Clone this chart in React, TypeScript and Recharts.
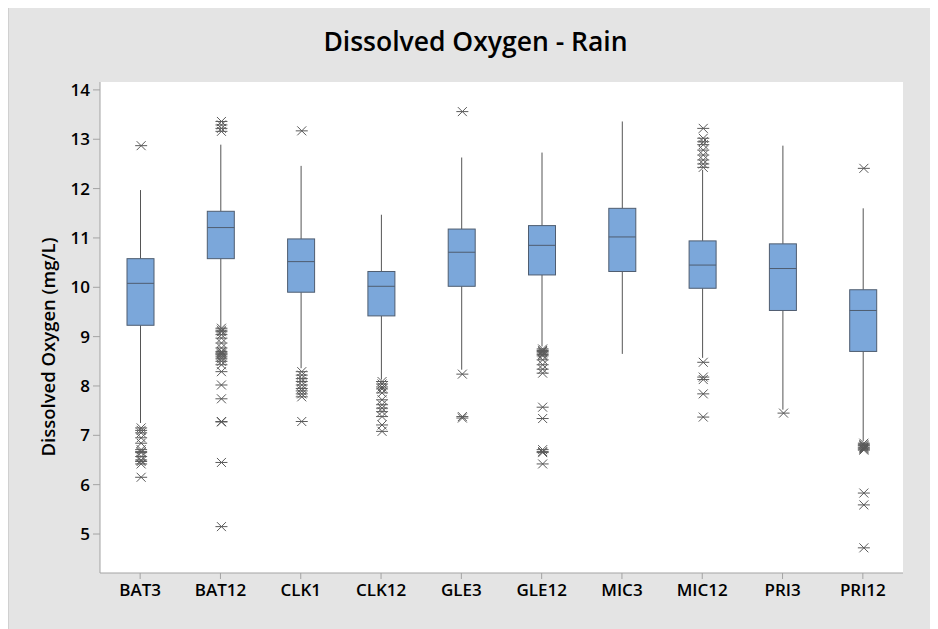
import React from 'react';
import { ComposedChart, Bar, Scatter, XAxis, YAxis, CartesianGrid } from 'recharts';

const categories = ['BAT3', 'BAT12', 'CLK1', 'CLK12', 'GLE3', 'GLE12', 'MIC3', 'MIC12', 'PRI3', 'PRI12'];
const whiskerLow = [7.25, 9.18, 8.36, 8.13, 8.33, 8.8, 8.65, 8.57, 7.52, 6.88];
const q1 = [9.23, 10.58, 9.9, 9.42, 10.02, 10.25, 10.32, 9.98, 9.53, 8.7];
const median = [10.08, 11.21, 10.52, 10.02, 10.71, 10.85, 11.02, 10.45, 10.38, 9.53];
const q3 = [10.58, 11.54, 10.98, 10.32, 11.18, 11.25, 11.6, 10.94, 10.88, 9.95];
const whiskerHigh = [11.97, 12.89, 12.46, 11.47, 12.63, 12.73, 13.36, 12.38, 12.87, 11.6];

const outBAT3 = [12.87, 7.15, 7.1, 7.05, 6.95, 6.84, 6.71, 6.67, 6.65, 6.57, 6.5, 6.47, 6.42, 6.15];
const outBAT12 = [13.36, 13.29, 13.22, 13.16, 9.17, 9.13, 9.1, 9.04, 8.97, 8.87, 8.77, 8.7, 8.67, 8.65, 8.63, 8.59, 8.55, 8.5, 8.43, 8.29, 8.02, 7.74, 7.28, 7.27, 6.45, 5.15];
const outCLK1 = [13.17, 8.29, 8.22, 8.15, 8.09, 8.02, 7.95, 7.9, 7.84, 7.78, 7.28];
const outCLK12 = [8.09, 8.04, 7.98, 7.94, 7.86, 7.72, 7.62, 7.55, 7.48, 7.38, 7.21, 7.08];
const outGLE3 = [13.56, 8.24, 7.38, 7.35];
const outGLE12 = [8.75, 8.72, 8.7, 8.67, 8.64, 8.61, 8.53, 8.43, 8.34, 8.26, 7.57, 7.34, 6.71, 6.67, 6.65, 6.42];
const outMIC3: number[] = [];
const outMIC12 = [13.22, 13.02, 12.95, 12.89, 12.78, 12.68, 12.58, 12.5, 12.43, 8.48, 8.18, 8.13, 7.84, 7.37];
const outPRI3 = [7.45];
const outPRI12 = [12.41, 6.84, 6.81, 6.79, 6.76, 6.74, 6.72, 6.7, 5.83, 5.59, 4.72];

const outliers = [outBAT3, outBAT12, outCLK1, outCLK12, outGLE3, outGLE12, outMIC3, outMIC12, outPRI3, outPRI12];
const yTicks = [5, 6, 7, 8, 9, 10, 11, 12, 13, 14];

const boxData = categories.map((name, i) => ({
  name,
  idx: i,
  range: [whiskerLow[i], whiskerHigh[i]],
  lo: whiskerLow[i],
  q1: q1[i],
  med: median[i],
  q3: q3[i],
  hi: whiskerHigh[i],
}));

const outlierData = outliers.flatMap((arr, i) => arr.map((v) => ({ idx: i, v })));

const FONT = '"Open Sans", "Noto Sans", sans-serif';
const AXIS = '#a3a3a3';

const BoxShape = (props: any) => {
  const { x, y, width, height, payload } = props;
  if (!payload) return null;
  const top = Math.min(y, y + height);
  const bottom = Math.max(y, y + height);
  const { lo, hi } = payload;
  const pix = (v: number) => bottom - ((v - lo) / (hi - lo)) * (bottom - top);
  const cx = x + width / 2;
  const yq1 = pix(payload.q1);
  const yq3 = pix(payload.q3);
  const ym = pix(payload.med);
  return (
    <g>
      <line x1={cx} x2={cx} y1={top} y2={yq3} stroke="#555" strokeWidth={1} />
      <line x1={cx} x2={cx} y1={yq1} y2={bottom} stroke="#555" strokeWidth={1} />
      <rect x={x} y={yq3} width={width} height={yq1 - yq3} fill="#7ba7da" stroke="#4f5d70" strokeWidth={1} />
      <line x1={x} x2={x + width} y1={ym} y2={ym} stroke="#4f5d70" strokeWidth={1} />
    </g>
  );
};

const Asterisk = (props: any) => {
  const { cx, cy } = props;
  if (cx == null || cy == null) return null;
  const c = cx + 1;
  return (
    <g stroke="#5a5a5a" strokeWidth={1}>
      <line x1={c - 6} x2={c + 6} y1={cy} y2={cy} />
      <line x1={c - 4.5} x2={c + 4.5} y1={cy - 4.5} y2={cy + 4.5} />
      <line x1={c - 4.5} x2={c + 4.5} y1={cy + 4.5} y2={cy - 4.5} />
    </g>
  );
};

export default function App() {
  return (
    <div
      style={{
        position: 'relative',
        width: 930,
        height: 625,
        marginTop: -4,
        background: '#e4e4e4',
        boxShadow: 'inset 1px 1px 0 #d0d0d0',
        fontFamily: FONT,
      }}
    >
      <div
        style={{
          position: 'absolute',
          top: 19,
          left: 0,
          width: 930,
          paddingLeft: 5,
          boxSizing: 'border-box',
          textAlign: 'center',
          fontSize: 26.5,
          fontWeight: 600,
          color: '#000',
          whiteSpace: 'nowrap',
        }}
      >
        Dissolved Oxygen - Rain
      </div>
      <div
        style={{
          position: 'absolute',
          left: 39,
          top: 343,
          transform: 'translate(-50%, -50%) rotate(-90deg)',
          fontSize: 18.5,
          fontWeight: 600,
          color: '#000',
          whiteSpace: 'nowrap',
        }}
      >
        Dissolved Oxygen (mg/L)
      </div>
      <div style={{ position: 'absolute', left: 0, top: 0 }}>
        <ComposedChart
          width={930}
          height={625}
          data={boxData}
          margin={{ top: 78, right: 35, bottom: 0, left: 0 }}
        >
          <CartesianGrid fill="#ffffff" horizontal={false} vertical={false} stroke="none" />
          <XAxis
            dataKey="name"
            type="category"
            height={56}
            axisLine={{ stroke: AXIS }}
            tickLine={{ stroke: AXIS }}
            tickSize={6}
            tickMargin={5}
            interval={0}
            tick={{ fill: '#000', fontSize: 17, fontWeight: 600, fontFamily: FONT }}
          />
          <XAxis xAxisId="num" dataKey="idx" type="number" domain={[-0.5, 9.5]} allowDataOverflow hide />
          <XAxis
            xAxisId="top"
            dataKey="name"
            orientation="top"
            height={0}
            tick={false}
            tickLine={false}
            axisLine={{ stroke: AXIS }}
          />
          <YAxis
            type="number"
            domain={[4.21, 14.16]}
            allowDataOverflow
            ticks={yTicks}
            width={92}
            axisLine={{ stroke: AXIS }}
            tickLine={{ stroke: AXIS }}
            tickSize={7}
            tickMargin={3}
            tick={{ fill: '#000', fontSize: 17, fontWeight: 600, fontFamily: FONT }}
          />
          <YAxis
            yAxisId="r"
            orientation="right"
            width={0}
            domain={[4.21, 14.16]}
            tick={false}
            tickLine={false}
            axisLine={{ stroke: AXIS }}
          />
          <Bar dataKey="range" barSize={27} shape={<BoxShape />} isAnimationActive={false} />
          <Scatter
            data={outlierData}
            dataKey="v"
            xAxisId="num"
            shape={<Asterisk />}
            isAnimationActive={false}
          />
        </ComposedChart>
      </div>
    </div>
  );
}
